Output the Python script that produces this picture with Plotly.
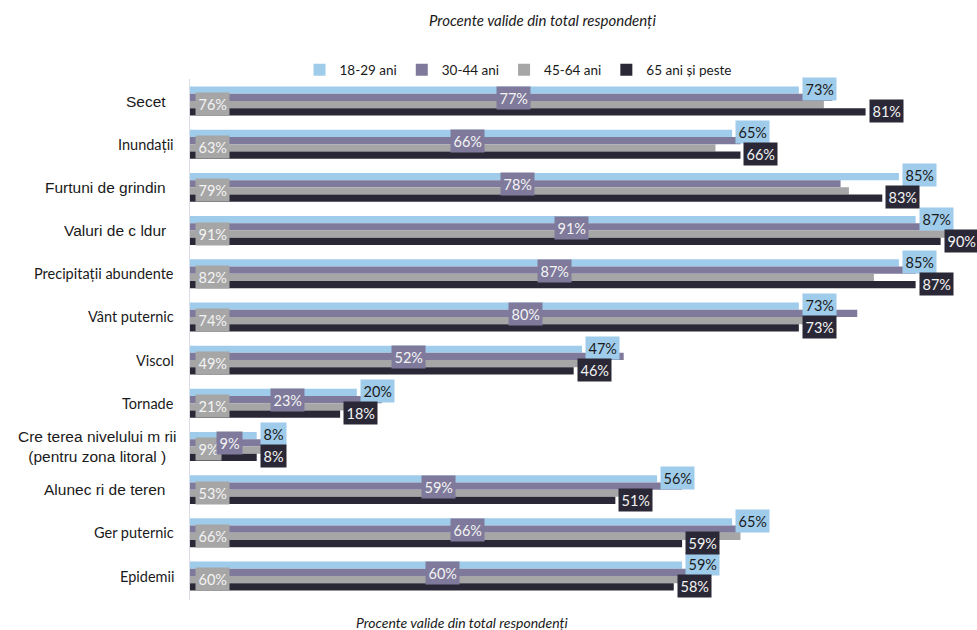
import plotly.graph_objects as go

categories = ["Secet", "Inundații", "Furtuni de grindin", "Valuri de c ldur",
              "Precipitații abundente", "Vânt puternic", "Viscol", "Tornade",
              "Cre terea nivelului m rii<br>(pentru zona litoral )",
              "Alunec ri de teren", "Ger puternic", "Epidemii"]
cat_keys = ["c%d" % i for i in range(len(categories))]
big_font = [True, False, True, True, False, False, False, False, True, True, False, False]

series_names = ["18-29 ani", "30-44 ani", "45-64 ani", "65 ani și peste"]
v18_29 = [73, 65, 85, 87, 85, 73, 47, 20, 8, 56, 65, 59]
v30_44 = [77, 66, 78, 91, 87, 80, 52, 23, 9, 59, 66, 60]
v45_64 = [76, 63, 79, 91, 82, 74, 49, 21, 9, 53, 66, 60]
v65_plus = [81, 66, 83, 90, 87, 73, 46, 18, 8, 51, 59, 58]

colors = ["#A0CCEB", "#7F7A9B", "#A6A6A6", "#2A2836"]
text_colors = ["#1A1A1A", "#F4F4F4", "#F4F4F4", "#F4F4F4"]
title_text = "Procente valide din total respondenți"

all_values = [v18_29, v30_44, v45_64, v65_plus]

fig = go.Figure()
for name, vals, col in zip(series_names, all_values, colors):
    fig.add_trace(go.Bar(
        x=vals, y=cat_keys, name=name, orientation="h",
        marker=dict(color=col, line=dict(width=0)),
        hoverinfo="x+name",
    ))

annotations = []
# data labels (drawing order: 18-29, 45-64, 30-44, 65+)
label_font = dict(family="Lato", size=14.5)
for si in [0, 2, 1, 3]:
    vals = all_values[si]
    for ck, v in zip(cat_keys, vals):
        txt = "%d%%" % v
        f = dict(label_font, color=text_colors[si])
        if si == 0:
            a = dict(x=v, y=ck, xanchor="left", xshift=3, yshift=12)
        elif si == 1:
            a = dict(x=v / 2, y=ck, xanchor="center", xshift=2, yshift=3)
        elif si == 2:
            a = dict(x=0, y=ck, xanchor="left", xshift=5, yshift=-3)
        else:
            a = dict(x=v, y=ck, xanchor="left", xshift=3, yshift=-10)
        a.update(text=txt, showarrow=False, xref="x", yref="y", yanchor="middle",
                 bgcolor=colors[si], borderpad=2.5, font=f)
        annotations.append(a)

# category labels
for ck, lab, big in zip(cat_keys, categories, big_font):
    if big:
        f = dict(family="Liberation Sans, Arial", size=15.5, color="#1A1A1A")
        xs = -11 if "<br>" in lab else -22
    else:
        f = dict(family="Lato", size=14.5, color="#1A1A1A")
        xs = -14
    annotations.append(dict(x=0, xref="paper", y=ck, yref="y", text=lab, showarrow=False,
                            xanchor="right", yanchor="middle", xshift=xs, align="center",
                            font=f))

# top and bottom titles
annotations.append(dict(x=(542 - 190) / 779, xref="paper", y=1, yref="paper", yshift=59,
                        text="<i>" + title_text + "</i>", showarrow=False,
                        xanchor="center", yanchor="middle",
                        font=dict(family="Lato", size=15, color="#1A1A1A")))
annotations.append(dict(x=(462 - 190) / 779, xref="paper", y=0, yref="paper", yshift=-22,
                        text="<i>" + title_text + "</i>", showarrow=False,
                        xanchor="center", yanchor="middle",
                        font=dict(family="Lato", size=14, color="#1A1A1A")))

fig.update_layout(
    width=977, height=630,
    margin=dict(l=190, r=8, t=79, b=30),
    paper_bgcolor="white", plot_bgcolor="white",
    barmode="group", bargap=0.33, bargroupgap=0,
    xaxis=dict(range=[0, 93.4], showticklabels=False, showgrid=False, zeroline=False,
               showline=False, fixedrange=True),
    yaxis=dict(type="category", autorange="reversed", showticklabels=False,
               showgrid=False, zeroline=False, showline=True, linecolor="#D9DEE6",
               linewidth=1, ticks=""),
    legend=dict(orientation="h", x=(518 - 190) / 779, xanchor="center",
                y=1 + 9 / 521, yanchor="middle", traceorder="normal",
                font=dict(family="Lato", size=13.5, color="#1A1A1A"),
                itemwidth=30, bgcolor="rgba(0,0,0,0)"),
    annotations=annotations,
    showlegend=True,
)

fig.write_html("out.html", config={"displayModeBar": False},
               post_script="document.body.style.margin='0px';document.body.style.overflow='hidden';")
